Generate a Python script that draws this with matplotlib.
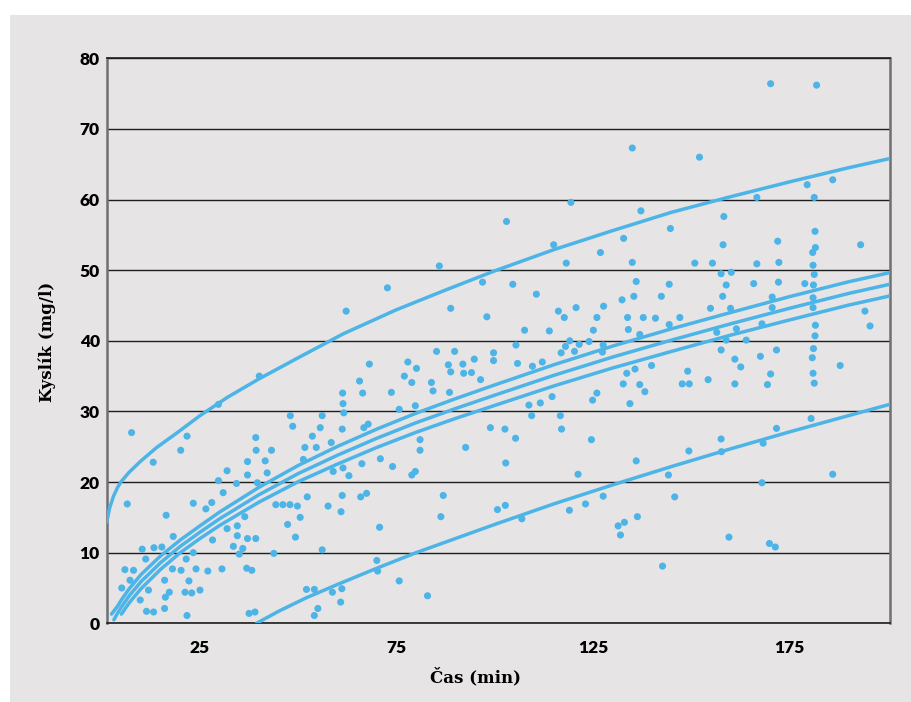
import numpy as np
import matplotlib.pyplot as plt
from matplotlib.patches import Rectangle

# namerene body (cas v min, kyslik v mg/l)
body = [
    (7.6,27.0),(6.5,16.9),(13.1,22.8),(20.1,24.5),(21.7,26.5),(29.7,31.0),(40.1,35.0),(16.4,15.3),
    (23.3,17.0),(26.5,16.2),(28.0,17.1),(29.7,20.2),(30.9,18.5),(31.9,21.6),(34.3,19.8),(37.1,22.9),
    (37.1,21.0),(39.2,26.3),(39.3,24.5),(41.6,23.0),(43.2,24.5),(42.1,21.3),(39.6,19.9),(36.4,15.1),
    (34.5,13.8),(31.9,13.4),(34.5,12.4),(37.1,12.0),(39.2,12.0),(35.9,10.6),(33.5,10.9),(35.0,9.8),
    (28.2,11.8),(23.3,10.0),(21.5,9.1),(18.2,12.3),(15.3,10.8),(13.3,10.7),(10.3,10.5),(11.2,9.1),
    (18.0,7.7),(20.2,7.5),(24.0,7.7),(27.0,7.4),(30.6,7.7),(36.9,7.8),(38.2,7.5),(43.8,9.9),
    (16.0,6.1),(22.2,6.0),(11.9,4.7),(17.2,4.4),(16.2,3.7),(21.2,4.4),(22.9,4.3),(25.0,4.7),
    (9.8,3.3),(16.0,2.1),(11.4,1.7),(13.2,1.6),(21.7,1.1),(37.5,1.4),(39.0,1.6),(5.9,7.6),
    (8.1,7.5),(7.2,6.1),(5.1,5.0),
    (44.3,16.8),(46.1,16.8),(47.9,16.8),(49.8,16.6),(47.3,14.0),(49.3,12.2),(50.5,15.0),(52.3,17.9),
    (48.0,29.4),(48.6,27.9),(53.6,26.5),(55.6,27.7),(56.1,29.4),(51.7,24.9),(54.6,24.9),(58.4,25.6),
    (51.3,23.2),
    (61.3,32.6),(61.4,31.1),(61.6,29.8),(61.2,27.5),(65.6,34.3),(66.4,32.6),(68.1,36.7),(66.7,27.7),
    (67.8,28.2),(58.9,21.5),(61.4,22.0),(62.9,20.9),(66.2,22.6),(57.6,16.6),(61.2,18.1),(60.9,15.8),
    (65.9,17.9),(67.4,18.4),(56.1,10.4),(52.1,4.8),(54.1,4.8),(58.7,4.4),(61.1,4.9),(55.0,2.1),
    (54.1,1.1),(60.8,3.0),
    (70.9,23.3),(74.0,22.2),(75.7,30.3),(73.7,32.7),(77.0,35.0),(77.9,37.0),(78.9,34.1),(80.1,36.1),
    (79.8,30.8),(81.0,26.0),(81.0,24.5),(79.8,21.5),(78.9,21.0),(83.9,34.1),(84.3,32.9),(85.2,38.5),
    (88.2,36.6),(88.8,35.6),(89.8,38.5),(91.9,36.7),(92.1,35.4),(94.1,35.5),(94.8,37.4),(96.4,34.5),
    (88.5,32.7),(92.6,24.9),(98.9,27.7),(99.7,38.3),(99.7,37.2),(102.6,27.5),(105.3,26.2),(102.8,22.7),
    (105.4,39.4),(105.8,36.8),(107.6,41.5),(109.6,36.4),(112.1,37.0),(113.9,41.4),(108.7,30.9),(109.4,29.4),
    (111.6,31.2),(114.6,32.1),(116.7,29.4),(117.0,27.5),(116.9,38.3),(118.0,39.2),(119.1,40.0),(120.3,38.5),
    (121.5,39.5),(124.0,39.9),(125.1,41.5),(127.6,39.4),(127.4,38.4),(126.0,32.6),(124.9,31.6),(124.6,26.0),
    (121.2,21.1),(132.7,33.9),(133.6,35.4),(134.4,31.1),(86.9,18.1),(86.3,15.1),(70.7,13.6),(70.0,8.9),
    (70.2,7.4),(75.7,6.0),(82.9,3.9),(100.7,16.1),(102.7,16.7),(106.9,14.8),(119.0,16.0),(123.1,16.9),
    (127.6,18.0),(131.4,13.8),(133.0,14.3),(132.0,12.5),
    (157.6,38.7),(161.1,37.4),(162.6,36.3),(167.6,37.8),(171.7,38.7),(181.1,38.9),(180.8,37.6),(181.0,35.4),
    (181.3,34.0),(187.9,36.5),(170.2,35.3),(169.4,33.8),(161.1,33.9),(154.3,34.5),(149.1,35.7),(147.7,33.9),
    (149.5,33.9),(139.9,36.5),(135.7,36.0),(136.9,33.8),(138.2,32.8),(180.5,29.0),(171.7,27.6),(157.6,26.1),
    (168.3,25.5),(157.7,24.3),(149.4,24.4),(136.0,23.0),(144.2,21.0),(168.0,19.9),(186.0,21.1),(145.8,17.9),
    (136.3,15.1),(159.6,12.2),(169.9,11.3),(171.4,10.8),(142.7,8.1),(134.0,41.6),(136.9,40.9),(156.5,41.2),
    (158.9,40.1),(164.0,40.1),(181.5,40.7),
    (119.4,59.6),(103.0,56.9),(115.0,53.6),(126.9,52.5),(118.2,51.0),(85.9,50.6),(72.7,47.5),(96.9,48.3),
    (104.6,48.0),(110.6,46.6),(88.8,44.6),(98.0,43.4),(116.2,44.2),(117.7,43.3),(120.7,44.7),(127.7,44.9),
    (126.0,43.3),(62.2,44.2),
    (170.2,76.4),(181.9,76.2),(135.0,67.3),(152.1,66.0),(179.5,62.1),(186.0,62.8),(166.7,60.3),(181.3,60.3),
    (137.2,58.4),(158.3,57.6),(144.7,55.9),(181.5,55.5),(132.8,54.5),(172.0,54.1),(158.1,53.6),(181.6,53.2),
    (180.9,52.5),(193.1,53.6),(135.0,51.1),(150.9,51.0),(155.4,51.0),(166.7,50.9),(172.3,51.1),(181.0,50.7),
    (157.6,49.5),(160.2,49.7),(181.3,49.4),(136.0,48.4),(144.4,48.0),(158.9,47.9),(165.9,48.1),(172.2,48.3),
    (178.9,48.1),(181.1,47.9),(132.4,45.8),(135.4,46.3),(142.4,46.3),(158.0,46.3),(170.6,46.2),(181.0,46.1),
    (154.9,44.6),(160.0,44.6),(170.6,44.7),(181.0,44.7),(133.8,43.3),(137.8,43.3),(140.9,43.2),(147.1,43.3),
    (194.2,44.2),(195.5,42.1),(144.4,42.3),(161.5,41.7),(168.0,42.4),(181.6,42.2),
]
cas = [b[0] for b in body]
kyslik = [b[1] for b in body]

# krivky
fit_x = [4, 5, 7, 10, 15, 20, 25, 30, 40, 50, 60, 70, 80, 90, 100, 115, 130, 145, 160, 175, 190, 200.5]
fit_y = [1.4, 2.3, 3.9, 5.9, 8.6, 10.9, 12.9, 14.8, 18.2, 21.2, 23.8, 26.2, 28.4, 30.4, 32.3, 35.1,
         37.7, 40.1, 42.4, 44.6, 46.7, 48.0]
ci_hi = [2.4, 3.3, 4.9, 6.9, 9.55, 11.8, 13.8, 15.75, 19.25, 22.35, 25.05, 27.5, 29.75, 31.8, 33.75,
         36.6, 39.25, 41.7, 44.0, 46.25, 48.35, 49.65]
ci_lo = [0.4, 1.3, 2.9, 4.9, 7.65, 10.0, 12.0, 13.85, 17.15, 20.05, 22.55, 24.9, 27.05, 29.0, 30.85,
         33.6, 36.15, 38.5, 40.8, 42.95, 45.05, 46.35]
pi_hi_x = [1.27, 2, 3, 4, 5, 7, 10, 14, 19, 25, 32, 40, 50, 61.5, 75, 88, 100, 115, 130, 145, 160, 175, 190, 200.5]
pi_hi_y = [14.3, 16.3, 18.0, 19.2, 20.1, 21.4, 23.0, 24.9, 26.9, 29.4, 32.0, 34.6, 37.6, 41.0, 44.4,
           47.3, 49.9, 52.9, 55.6, 58.2, 60.4, 62.5, 64.5, 65.8]
pi_lo_x = [39.4, 45, 52, 60, 70, 80, 90, 100, 115, 130, 145, 160, 175, 190, 200.5]
pi_lo_y = [0.0, 1.7, 3.6, 5.5, 7.8, 10.0, 12.0, 14.0, 16.9, 19.6, 22.2, 24.7, 27.1, 29.4, 31.0]

modra = '#4cb4e6'
seda = '#e6e4e5'

fig = plt.figure(figsize=(9.11, 7.02), dpi=100)
fig.patch.set_facecolor('white')
fig.patches.append(Rectangle((10/911, 0), 1, (702-15)/702, transform=fig.transFigure,
                             facecolor=seda, edgecolor='none', zorder=-10))
ax = fig.add_axes([106.7/911, (702-623.3)/702, 783/911, 565/702])
ax.set_facecolor(seda)

ax.scatter(cas, kyslik, s=26, color=modra, edgecolors='none', zorder=3)
kw = dict(color=modra, lw=2.5, solid_capstyle='round', zorder=4)
ax.plot([3.1] + fit_x, [0.5] + fit_y, **kw)
ax.plot([2.5] + fit_x, [1.3] + ci_hi, **kw)
ax.plot(fit_x[1:], ci_lo[1:], **kw)
ax.plot(pi_hi_x, pi_hi_y, **kw)
ax.plot(pi_lo_x, pi_lo_y, **kw)

ax.set_xlim(1.27, 200.5)
ax.set_ylim(0, 80)
ax.set_xticks([25, 75, 125, 175])
ax.set_yticks(range(0, 81, 10))
ax.set_axisbelow(True)
ax.grid(axis='y', color='#1e1e1e', lw=1.0)
ax.tick_params(length=0, labelsize=12.5)
ax.tick_params(axis='x', pad=12)
ax.tick_params(axis='y', pad=5)
for lab in ax.get_xticklabels() + ax.get_yticklabels():
    lab.set_fontfamily('Lato')
    lab.set_fontweight('heavy')

for s in ['top', 'bottom']:
    ax.spines[s].set_color('#1e1e1e')
    ax.spines[s].set_linewidth(1.2)
for s in ['left', 'right']:
    ax.spines[s].set_color('#707070')
    ax.spines[s].set_linewidth(1.8)

fig.text(476/911, 1-677/702, 'Čas (min)', ha='center', va='center',
         family='DejaVu Serif', fontweight='bold', fontsize=12)
fig.text(47/911, 1-342/702, 'Kyslík (mg/l)', ha='center', va='center', rotation=90,
         family='DejaVu Serif', fontweight='bold', fontsize=12)

plt.savefig('out.png', dpi=100)
